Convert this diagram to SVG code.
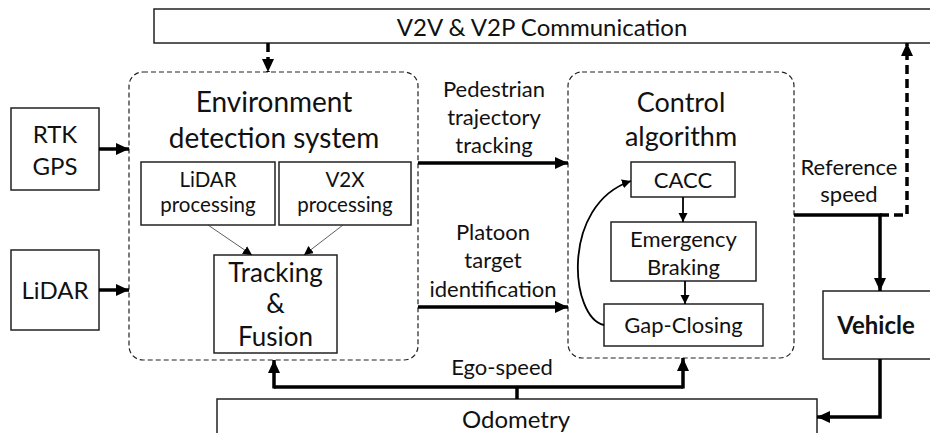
<svg xmlns="http://www.w3.org/2000/svg" width="930" height="433" viewBox="0 0 930 433">
<style>
text{font-family:Lato,"Liberation Sans",sans-serif;fill:#111;text-anchor:middle}
.box{fill:#fff;stroke:#222;stroke-width:1.5}
.grp{fill:none;stroke:#222;stroke-width:1.2;stroke-dasharray:5 3}
.thick{fill:none;stroke:#000;stroke-width:3.5}
.dash{fill:none;stroke:#000;stroke-width:3.5;stroke-dasharray:9 5}
.med{fill:none;stroke:#000;stroke-width:1.8}
.thin{fill:none;stroke:#333;stroke-width:0.8}
.t28{font-size:28px}.t27{font-size:27px}.t24{font-size:24px}.t21{font-size:22px}.t26{font-size:26px}.t20{font-size:20.5px}
</style>
<defs>
<marker id="ah" markerUnits="userSpaceOnUse" markerWidth="14" markerHeight="12" refX="13" refY="6" orient="auto"><path d="M0,0 L13,6 L0,12 Z" fill="#000"/></marker>
<marker id="ahs" markerUnits="userSpaceOnUse" markerWidth="10" markerHeight="10" refX="9" refY="5" orient="auto"><path d="M0,0.5 L9,5 L0,9.5 Z" fill="#000"/></marker>
</defs>

<g id="v2v">
<rect class="box" x="154" y="9" width="790" height="34"/>
<text class="t24" x="542" y="36">V2V &amp; V2P Communication</text>
</g>

<g id="env">
<rect class="grp" x="129" y="72" width="289" height="288" rx="14"/>
<text class="t28" x="274" y="112">Environment</text>
<text class="t28" x="274" y="148">detection system</text>
</g>

<g id="rtk">
<rect class="box" x="11" y="108" width="88" height="82"/>
<text class="t24" x="55" y="143">RTK</text>
<text class="t24" x="55" y="175">GPS</text>
</g>

<g id="lidar">
<rect class="box" x="11" y="250" width="88" height="80"/>
<text class="t24" x="55" y="299">LiDAR</text>
</g>

<g id="lidarproc">
<rect class="box" x="141" y="162" width="134" height="63"/>
<text class="t20" x="208" y="187">LiDAR</text>
<text class="t20" x="208" y="212">processing</text>
</g>

<g id="v2xproc">
<rect class="box" x="279" y="162" width="132" height="63"/>
<text class="t20" x="345" y="187">V2X</text>
<text class="t20" x="345" y="212">processing</text>
</g>

<g id="tracking">
<rect class="box" x="214" y="255" width="123" height="98"/>
<text class="t26" x="275.5" y="282">Tracking</text>
<text class="t26" x="275.5" y="313">&amp;</text>
<text class="t26" x="275.5" y="346">Fusion</text>
</g>

<g id="control">
<rect class="grp" x="568" y="72" width="226" height="286" rx="14"/>
<text class="t27" x="681" y="112">Control</text>
<text class="t27" x="681" y="146">algorithm</text>
</g>

<g id="cacc">
<rect class="box" x="631" y="162" width="104" height="35"/>
<text class="t21" x="683" y="188">CACC</text>
</g>

<g id="emergency">
<rect class="box" x="611" y="222" width="145" height="59"/>
<text class="t21" x="683.5" y="247">Emergency</text>
<text class="t21" x="683.5" y="275">Braking</text>
</g>

<g id="gap">
<rect class="box" x="604" y="304" width="159" height="42"/>
<text class="t21" x="683.5" y="333">Gap-Closing</text>
</g>

<g id="vehicle">
<rect class="box" x="823" y="291" width="120" height="68"/>
<text class="t24" x="876" y="334" font-weight="bold">Vehicle</text>
</g>

<g id="odometry">
<rect class="box" x="217" y="399" width="600" height="50"/>
<text class="t24" x="516" y="428">Odometry</text>
</g>

<g id="labels">
<text class="t21" x="494" y="97">Pedestrian</text>
<text class="t21" x="494" y="125">trajectory</text>
<text class="t21" x="494" y="153">tracking</text>
<text class="t21" x="493" y="240">Platoon</text>
<text class="t21" x="493" y="268">target</text>
<text class="t21" x="493" y="297">identification</text>
<text class="t21" x="849" y="175">Reference</text>
<text class="t21" x="849" y="202">speed</text>
<text class="t21" x="502" y="375">Ego-speed</text>
</g>

<g id="connectors">
<path class="dash" d="M268,43 V72" marker-end="url(#ah)"/>
<path class="thick" d="M99,149 H129" marker-end="url(#ah)"/>
<path class="thick" d="M99,290 H129" marker-end="url(#ah)"/>
<path class="thin" d="M208,225 L252,255" marker-end="url(#ahs)"/>
<path class="thin" d="M343,225 L304,255" marker-end="url(#ahs)"/>
<path class="thick" d="M418,163 H568" marker-end="url(#ah)"/>
<path class="thick" d="M418,307 H568" marker-end="url(#ah)"/>
<path class="med" d="M683,197 V222" marker-end="url(#ahs)"/>
<path class="med" d="M685,281 V304" marker-end="url(#ahs)"/>
<path class="med" d="M604,325 C570,318 560,205 631,181" marker-end="url(#ahs)"/>
<path class="thick" d="M794,215 H880 V291" marker-end="url(#ah)"/>
<path class="dash" d="M880,215 H907 V43" marker-end="url(#ah)"/>
<path class="thick" d="M880,359 V417 H817" marker-end="url(#ah)"/>
<path class="thick" d="M517,399 V387"/>
<path class="thick" d="M274,387 H683"/>
<path class="thick" d="M274,388.5 V360" marker-end="url(#ah)"/>
<path class="thick" d="M683,388.5 V358" marker-end="url(#ah)"/>
</g>
</svg>
